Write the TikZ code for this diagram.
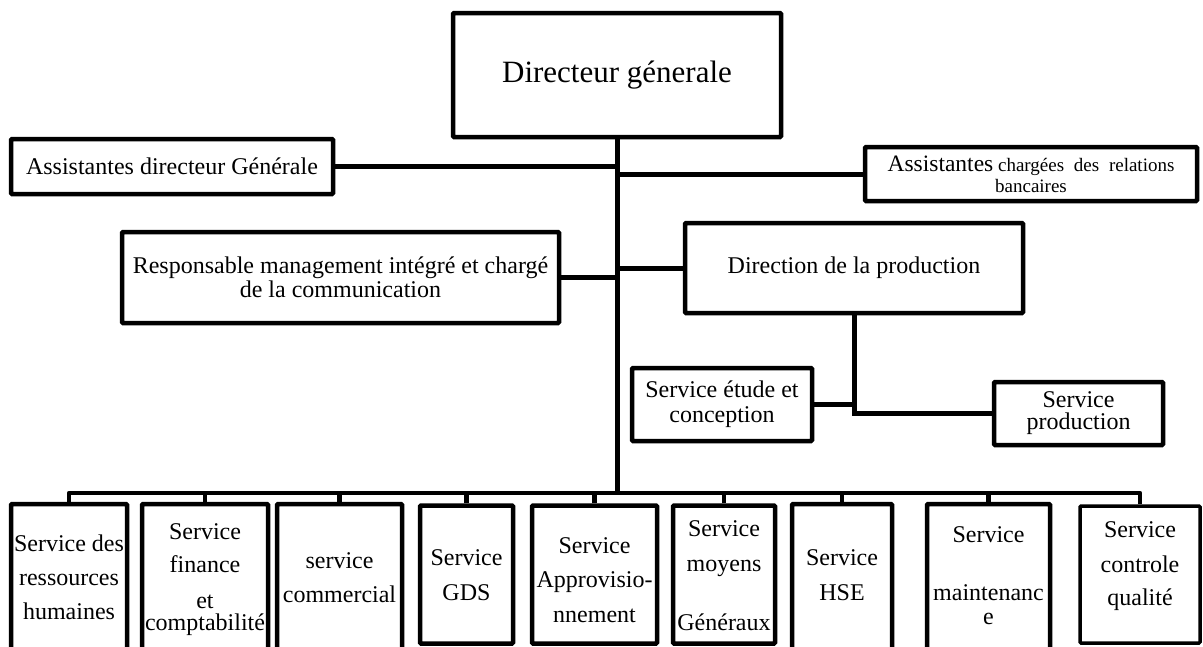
\documentclass[tikz,border=0pt]{standalone}
\usepackage{fontspec}
\setmainfont{Liberation Serif}
\begin{document}
\begin{tikzpicture}[x=1pt,y=-1pt,
  orgbox/.style={draw=black,line width=4.5pt,fill=white,rounded corners=1pt,
    inner sep=0pt,align=center,font=\fontsize{24}{24}\selectfont},
  conn/.style={draw=black,line width=5pt},
  stub/.style={draw=black,line width=4.5pt},
  svctext/.style={anchor=base,inner sep=0pt,align=center,
    font=\fontsize{24}{34}\selectfont}]
\useasboundingbox (0,0) rectangle (1203,646);

% top level
\node[orgbox,minimum width=328pt,minimum height=124pt,
  font=\fontsize{31}{31}\selectfont] (dg) at (617,75) {Directeur génerale};

% assistants
\node[orgbox,minimum width=322pt,minimum height=55pt] (adg) at (172,166.5)
  {Assistantes directeur Générale};
\node[orgbox,minimum width=332pt,minimum height=54pt,
  font=\fontsize{19}{21}\selectfont] (acr) at (1031,174)
  {{\fontsize{23.5}{21}\selectfont Assistantes} chargées\hspace{5pt} des\hspace{5pt} relations\\bancaires};

% second level
\node[orgbox,minimum width=437pt,minimum height=91pt] (resp) at (340.5,277.5)
  {Responsable management intégré et chargé\\de la communication};
\node[orgbox,minimum width=338pt,minimum height=90pt] (dprod) at (854,268)
  {Direction de la production};

% production services
\node[orgbox,minimum width=180pt,minimum height=73pt,
  font=\fontsize{24}{25}\selectfont] (etude) at (722,404.5)
  {Service étude et\\conception};
\node[orgbox,minimum width=169pt,minimum height=63pt,
  font=\fontsize{24}{22}\selectfont] (sprod) at (1078.5,413.5)
  {Service\\production};

% bottom row of services (frames)
\node[orgbox,minimum width=116pt,minimum height=150pt] (s1) at (69,579) {};
\node[orgbox,minimum width=126pt,minimum height=150pt] (s2) at (205,579) {};
\node[orgbox,minimum width=125pt,minimum height=150pt] (s3) at (339.5,579) {};
\node[orgbox,minimum width=93pt,minimum height=138pt] (s4) at (466.5,574.5) {};
\node[orgbox,minimum width=125pt,minimum height=138pt] (s5) at (594.5,574.5) {};
\node[orgbox,minimum width=102pt,minimum height=138pt] (s6) at (724,574.5) {};
\node[orgbox,minimum width=100pt,minimum height=150pt] (s7) at (842,579) {};
\node[orgbox,minimum width=123pt,minimum height=150pt] (s8) at (988.5,579) {};
\node[orgbox,minimum width=120pt,minimum height=137pt,line width=3.5pt] (s9) at (1140,574.5) {};

% bottom row of services (labels, placed by the baseline of their last line)
\node[svctext] (t1) at (69,619) {Service des\\ressources\\humaines};
\node[svctext] (t2) at (205,630) {Service\\[-1pt]finance\\[2pt]et\\[-12pt]comptabilité};
\node[svctext] (t3) at (339.5,602) {service\\commercial};
\node[svctext] (t4) at (466.5,600) {Service\\[1pt]GDS};
\node[svctext] (t5) at (594.5,622) {Service\\Approvisio-\\[1pt]nnement};
\node[svctext] (t6) at (724,630) {Service\\[1pt]moyens\\[25pt]Généraux};
\node[svctext] (t7) at (842,600) {Service\\[1pt]HSE};
\node[svctext] (t8) at (988.5,624) {Service\\[24pt]maintenanc\\[-10pt]e};
\node[svctext] (t9) at (1140,605) {Service\\[1pt]controle\\[-1pt]qualité};

% connectors
\coordinate (bar) at (617,493);
\draw[conn] (dg.south) -- (bar);
\draw[conn] (adg.east) -- (adg.east -| dg.south);
\draw[conn] (acr.west) -- (acr.west -| dg.south);
\draw[conn] (resp.east) -- (resp.east -| dg.south);
\draw[conn] (dprod.west) -- (dprod.west -| dg.south);
\draw[conn] (dprod.south) -- (dprod.south |- sprod.west) -- (sprod.west);
\draw[conn] (etude.east) -- (etude.east -| dprod.south);

\draw[stub,line join=round] (s1.north) -- (s1.north |- bar) -- (s9.north |- bar) -- (s9.north);
\foreach \s in {s2,s3,s4,s5,s6,s7,s8}
  \draw[stub] (\s.north) -- (\s.north |- bar);
\end{tikzpicture}
\end{document}
